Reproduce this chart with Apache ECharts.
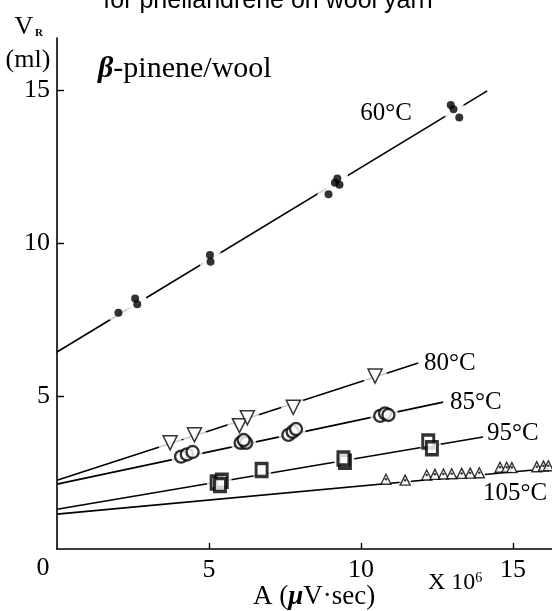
<!DOCTYPE html>
<html><head><meta charset="utf-8">
<script src="https://cdn.jsdelivr.net/npm/echarts@6/dist/echarts.min.js"></script>
<style>html,body{margin:0;padding:0;background:#fff}#c{width:552px;height:611px}</style>
</head><body><div id="c"></div>
<script>
// ---- data ----
const xTicks = [5, 10, 15];
const yTicks = [5, 10, 15];
const temps = ['60°C', '80°C', '85°C', '95°C', '105°C'];

const pts60 = [[2.02,7.72],[2.57,8.19],[2.64,8.00],[5.03,9.61],[5.05,9.39],[8.93,11.59],[9.14,11.97],[9.22,12.11],[9.29,11.90],[12.95,14.51],[13.04,14.37],[13.23,14.10]];
const pts80 = [[3.72,3.47],[4.52,3.73],[6.00,4.03],[6.26,4.29],[7.77,4.63],[10.46,5.65]];
const pts85 = [[4.08,3.02],[4.27,3.09],[4.46,3.17],[6.04,3.47],[6.22,3.47],[6.14,3.56],[7.61,3.73],[7.75,3.83],[7.86,3.92],[10.63,4.35],[10.79,4.43],[10.90,4.38]];
const pts95 = [[5.25,2.17],[5.42,2.23],[5.36,2.09],[6.73,2.58],[9.47,2.85],[9.42,2.96],[12.21,3.51],[12.33,3.29]];
const pts105 = [[10.82,2.28],[11.45,2.25],[12.16,2.42],[12.43,2.44],[12.71,2.45],[12.98,2.46],[13.31,2.47],[13.59,2.48],[13.89,2.49],[14.57,2.67],[14.79,2.67],[14.96,2.66],[15.78,2.69],[16.00,2.71],[16.16,2.72]];

// fitted straight lines: [start, end]
const fit60 = [[0,6.44],[14.15,14.97]];
const fit80 = [[0,2.25],[11.88,6.08]];
const fit85 = [[0,2.12],[12.70,4.80]];
const fit95 = [[0,1.30],[14.01,3.66]];
const fit105 = [[0,1.14],[16.2,2.63]];

// ---- chart ----
const serif = '"Liberation Serif","Times New Roman",serif';
const sans = '"Liberation Sans",Arial,sans-serif';
const chart = echarts.init(document.getElementById('c'), null, {renderer:'canvas'});

function lineS(data){
  return {type:'line', data, symbol:'none', z:1, silent:true,
    lineStyle:{color:'#000', width:1.6}};
}
function halo(data, size){
  return {type:'scatter', data, symbol:'circle', symbolSize:size, z:2, silent:true,
    itemStyle:{color:'#fff'}};
}
function marks(data, opt){
  return Object.assign({type:'scatter', data, z:3, silent:true}, opt);
}

const series = [
  lineS(fit60), lineS(fit80), lineS(fit85), lineS(fit95), lineS(fit105),
  halo(pts60, 22), halo(pts80, 24), halo(pts85, 20), halo(pts95, 20), halo(pts105, 12),
  marks(pts60, {symbol:'circle', symbolSize:8, itemStyle:{color:'#000'}}),
  marks(pts80, {symbol:'triangle', symbolRotate:180, symbolSize:14, itemStyle:{color:'#fff', borderColor:'#000', borderWidth:1.5}}),
  marks(pts85, {symbol:'circle', symbolSize:12, itemStyle:{color:'#fff', borderColor:'#000', borderWidth:2.4}}),
  marks(pts95, {symbol:'rect', symbolSize:[11,13], itemStyle:{color:'#fff', borderColor:'#000', borderWidth:3.2}}),
  marks(pts105, {symbol:'triangle', symbolSize:10, itemStyle:{color:'#fff', borderColor:'#000', borderWidth:1.4}}),
  marks(pts105, {symbol:'circle', symbolSize:2.5, z:4, itemStyle:{color:'#000'}})
];

const txt = (text, x, y, font, align, extra) => Object.assign({
  type:'text', x, y, silent:true,
  style:{text, font, fill:'#000', textAlign:align||'left', textVerticalAlign:'middle'}
}, extra||{});

chart.setOption({
  animation:false,
  backgroundColor:'#fff',
  grid:{left:57, right:0, top:38, bottom:62},
  xAxis:{type:'value', min:0, max:16.28, interval:5,
    axisLine:{lineStyle:{color:'#000', width:1.6}},
    axisTick:{inside:true, length:6, customValues:xTicks, lineStyle:{color:'#000', width:1.4}},
    axisLabel:{customValues:xTicks, margin:8, color:'#000', fontFamily:serif, fontSize:26},
    splitLine:{show:false}},
  yAxis:{type:'value', min:0, max:16.7, interval:5,
    axisLine:{show:true, lineStyle:{color:'#000', width:1.6}},
    axisTick:{show:true, inside:true, length:7, customValues:yTicks, lineStyle:{color:'#000', width:1.4}},
    axisLabel:{customValues:yTicks, margin:7, color:'#000', fontFamily:serif, fontSize:26},
    splitLine:{show:false}},
  series,
  graphic:[
    txt('for phellandrene on wool yarn', 268, 1, '25px '+sans, 'center'),
    txt('V', 24, 27, '26px '+serif, 'center'),
    txt('R', 39, 33, 'bold 11px '+serif, 'center'),
    txt('(ml)', 28, 60, '26px '+serif, 'center'),
    {type:'text', x:98, y:69, silent:true, style:{text:'{b|β}-pinene/wool', font:'30px '+serif, fill:'#000', textVerticalAlign:'middle',
      rich:{b:{fontFamily:serif, fontSize:30, fontWeight:'bold', fontStyle:'italic'}}}},
    txt(temps[0], 386, 113, '25px '+serif, 'center'),
    txt(temps[1], 424, 363, '25px '+serif, 'left'),
    txt(temps[2], 450, 402, '25px '+serif, 'left'),
    txt(temps[3], 487, 433, '25px '+serif, 'left'),
    txt(temps[4], 483, 493, '25px '+serif, 'left'),
    txt('0', 43, 568, '26px '+serif, 'center'),
    {type:'text', x:428, y:583, silent:true, style:{text:'{a|X 10}{s|6}', font:'24px '+serif, fill:'#000', textVerticalAlign:'middle',
      rich:{a:{fontFamily:serif, fontSize:24}, s:{fontFamily:serif, fontSize:14, verticalAlign:'top', padding:[0,0,10,0]}}}},
    {type:'text', x:253, y:597, silent:true, style:{text:'A ({m|μ}V·sec)', font:'27px '+serif, fill:'#000', textVerticalAlign:'middle',
      rich:{m:{fontFamily:serif, fontSize:27, fontStyle:'italic', fontWeight:'bold'}}}}
  ]
});
</script>
</body></html>
